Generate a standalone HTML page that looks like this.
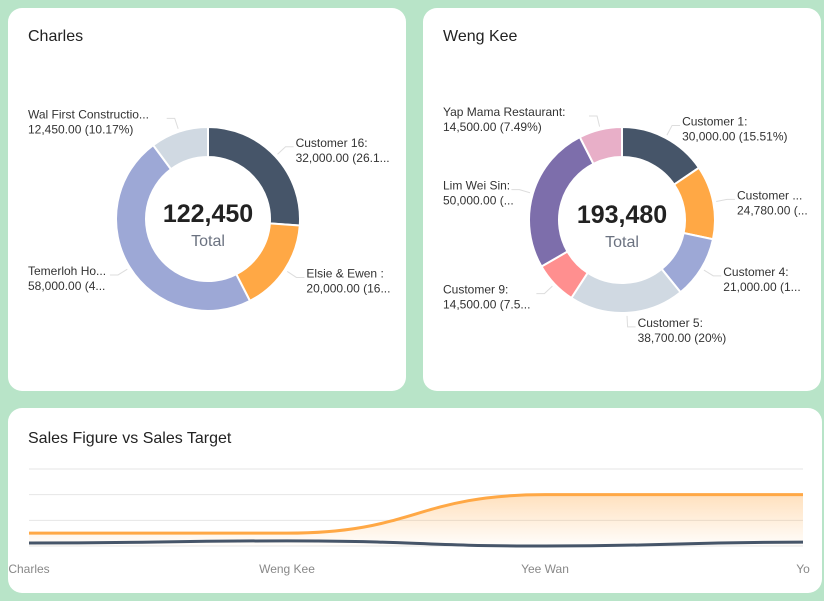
<!DOCTYPE html>
<html><head><meta charset="utf-8"><style>
body{margin:0;width:824px;height:601px;background:#b8e4c8;font-family:"Liberation Sans",sans-serif;position:relative;overflow:hidden}
.card{position:absolute;background:#fff;border-radius:14px}
.title{position:absolute;left:20px;top:20px;font-size:16px;color:#222}
svg{position:absolute;left:0;top:0}
</style></head><body>
<div class="card" style="left:8px;top:8px;width:398px;height:383px"><div class="title">Charles</div></div>
<div class="card" style="left:423px;top:8px;width:398px;height:383px"><div class="title">Weng Kee</div></div>
<div class="card" style="left:8px;top:408px;width:814px;height:185px"><div class="title" style="top:22px">Sales Figure vs Sales Target</div></div>
<svg id="svg" width="824" height="601"></svg>
<script>
const charlesNames=["Customer 16","Elsie & Ewen","Temerloh Ho...","Wal First Constructio..."];
const charlesValues=[32000,20000,58000,12450];
const charlesLabels=[["Customer 16:","32,000.00 (26.1..."],["Elsie & Ewen :","20,000.00 (16..."],["Temerloh Ho...","58,000.00 (4..."],["Wal First Constructio...","12,450.00 (10.17%)"]];
const charlesColors=["#465569","#ffa845","#9da8d6","#d0d9e2"];
const wengNames=["Customer 1","Customer 2","Customer 4","Customer 5","Customer 9","Lim Wei Sin","Yap Mama Restaurant"];
const wengValues=[30000,24780,21000,38700,14500,50000,14500];
const wengLabels=[["Customer 1:","30,000.00 (15.51%)"],["Customer ...","24,780.00 (..."],["Customer 4:","21,000.00 (1..."],["Customer 5:","38,700.00 (20%)"],["Customer 9:","14,500.00 (7.5..."],["Lim Wei Sin:","50,000.00 (..."],["Yap Mama Restaurant:","14,500.00 (7.49%)"]];
const wengColors=["#465569","#ffa845","#9da8d6","#d0d9e2","#ff8f8f","#7d6eab","#e8afc8"];
const categories=["Charles","Weng Kee","Yee Wan","Yo"];
const targetValues=[10000,10000,40000,40000];
const salesValues=[2300,4000,0,3000];
const yTicks=[0,20000,40000,60000];
const NS="http://www.w3.org/2000/svg";
const svg=document.getElementById('svg');
function mk(t,a,p){const e=document.createElementNS(NS,t);for(const k in a)e.setAttribute(k,a[k]);(p||svg).appendChild(e);return e;}
function donut(cx,cy,R,r,vals,cols,labels,names,key,total,leftX){
  const sum=vals.reduce((a,b)=>a+b,0);let a0=-Math.PI/2;
  vals.forEach((v,i)=>{
    const a1=a0+v/sum*2*Math.PI;const lg=(a1-a0)>Math.PI?1:0;
    const p=(ang,rr)=>[cx+rr*Math.cos(ang),cy+rr*Math.sin(ang)];
    const [x0,y0]=p(a0,R),[x1,y1]=p(a1,R),[x2,y2]=p(a1,r),[x3,y3]=p(a0,r);
    const s=mk('path',{d:`M${x0},${y0}A${R},${R} 0 ${lg} 1 ${x1},${y1}L${x2},${y2}A${r},${r} 0 ${lg} 0 ${x3},${y3}Z`,fill:cols[i],stroke:'#fff','stroke-width':2});
    
    
    const am=(a0+a1)/2;const right=Math.cos(am)>=0;
    const [lx0,ly0]=p(am,R+3),[lx1,ly1]=p(am,R+14);
    const lx2=lx1+(right?8:-8);
    mk('polyline',{points:`${lx0},${ly0} ${lx1},${ly1} ${lx2},${ly1}`,fill:'none',stroke:'#ddd','stroke-width':1});
    const tx=right?lx2+2:leftX;
    const t=mk('text',{x:tx,y:ly1,'font-size':12,fill:'#333','text-anchor':'start'});
    
    
    labels[i].forEach((ln,j)=>{const ts=mk('tspan',{x:tx,dy:j?15:0},t);ts.textContent=ln;});
    a0=a1;
  });
  const tt=mk('text',{x:cx,y:cy+3,'font-size':25,'font-weight':'bold',fill:'#222','text-anchor':'middle'});tt.textContent=total;
  
  const tl=mk('text',{x:cx,y:cy+27,'font-size':16,fill:'#6b7280','text-anchor':'middle'});tl.textContent='Total';
  
}
donut(208,219,92,62,charlesValues,charlesColors,charlesLabels,charlesNames,'charles','122,450',28);
donut(622,220,93,63,wengValues,wengColors,wengLabels,wengNames,'weng-kee','193,480',443);
const X0=29,X1=803,Y0=546,Y1=469;
const xs=i=>X0+i*(X1-X0)/(categories.length-1);
const ys=v=>Y0-(v-yTicks[0])/(yTicks[yTicks.length-1]-yTicks[0])*(Y0-Y1);
const defs=mk('defs',{});const g=mk('linearGradient',{id:'gr',x1:0,y1:0,x2:0,y2:1},defs);
mk('stop',{offset:0,'stop-color':'#ffa845','stop-opacity':0.35},g);mk('stop',{offset:1,'stop-color':'#ffa845','stop-opacity':0.02},g);
yTicks.forEach(t=>{const l=mk('line',{x1:X0,x2:X1,y1:ys(t),y2:ys(t),stroke:'#e6e6e6','stroke-width':1});
  });
function curve(vals){let d=`M${xs(0)},${ys(vals[0])}`;for(let i=1;i<vals.length;i++){const xa=xs(i-1),xb=xs(i),ya=ys(vals[i-1]),yb=ys(vals[i]);const m=(xa+xb)/2;d+=`C${m},${ya} ${m},${yb} ${xb},${yb}`;}return d;}
const ta=mk('path',{d:curve(targetValues)+`L${xs(categories.length-1)},${Y0}L${xs(0)},${Y0}Z`,fill:'url(#gr)'});

const tl=mk('path',{d:curve(targetValues),fill:'none',stroke:'#ffa845','stroke-width':3});

const sl=mk('path',{d:curve(salesValues),fill:'none',stroke:'#465569','stroke-width':3});

categories.forEach((c,i)=>{const t=mk('text',{x:xs(i),y:573,'font-size':12,fill:'#888','text-anchor':'middle'});t.textContent=c;
  });
</script>
</body></html>
